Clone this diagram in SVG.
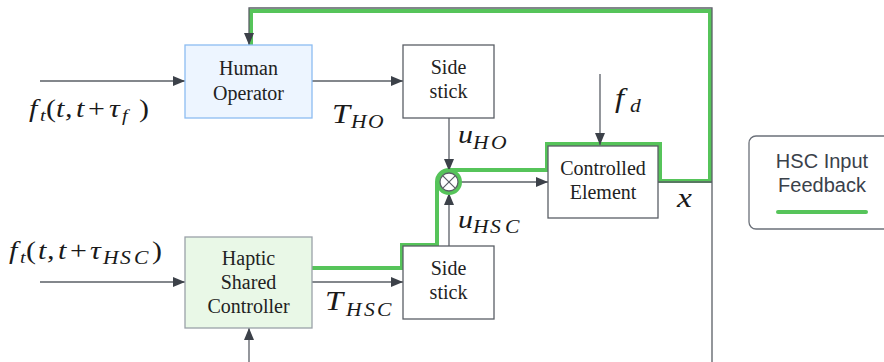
<svg xmlns="http://www.w3.org/2000/svg" width="884" height="362" viewBox="0 0 884 362">
<style>
.box{fill:#fff;stroke:#5a5f66;stroke-width:1.3}
.lbl{font-family:"Liberation Serif",serif;font-size:20px;fill:#222;text-anchor:middle}
.c{fill:none;stroke:#5a5f66;stroke-width:1.3}
.g{fill:none;stroke:#56c45a;stroke-width:4;stroke-linejoin:miter}
.m{font-family:"Liberation Serif",serif;font-style:italic;fill:#1a1a1a}
.n{font-style:normal}
.leg{font-family:"Liberation Sans",sans-serif;font-size:20px;fill:#3a414a;text-anchor:middle}
</style>
<defs>
<marker id="a" markerWidth="12" markerHeight="10" refX="12" refY="5" orient="auto" markerUnits="userSpaceOnUse">
<path d="M0,0 L12,5 L0,10 Z" fill="#3c4149"/>
</marker>
</defs>
<g id="connectors">
<path class="g" d="M312,268 H402 V245 H437 V182 A12,12 0 0 1 449,170 H547 V144 H660 V181 H710 V11 H251 V45"/>
<path class="c" d="M40,81 H185" marker-end="url(#a)"/>
<path class="c" d="M312,81 H403" marker-end="url(#a)"/>
<path class="c" d="M449,118 V171" marker-end="url(#a)"/>
<path class="c" d="M449,246 V193" marker-end="url(#a)"/>
<path class="c" d="M460,182 H548" marker-end="url(#a)"/>
<path class="c" d="M600,74 V145" marker-end="url(#a)"/>
<path class="c" d="M40,282 H185" marker-end="url(#a)"/>
<path class="c" d="M312,282 H403" marker-end="url(#a)"/>
<path class="c" d="M249,362 V328" marker-end="url(#a)"/>
<path class="c" d="M658,182 H712 M712,362 V8 H249 V45" marker-end="url(#a)"/>
</g>
<g id="human-operator">
<rect x="185" y="45" width="127" height="73" fill="#edf5ff" stroke="#8cbcf2" stroke-width="1.3"/>
<text class="lbl" x="248.5" y="75">Human</text>
<text class="lbl" x="248.5" y="100">Operator</text>
</g>
<g id="side-stick-top">
<rect class="box" x="403" y="45" width="91" height="73"/>
<text class="lbl" x="448.5" y="74">Side</text>
<text class="lbl" x="448.5" y="98">stick</text>
</g>
<g id="hsc">
<rect x="185" y="237" width="127" height="91" fill="#e9f8e7" stroke="#9aa1a8" stroke-width="1.3"/>
<text class="lbl" x="248.5" y="265">Haptic</text>
<text class="lbl" x="248.5" y="289">Shared</text>
<text class="lbl" x="248.5" y="313">Controller</text>
</g>
<g id="side-stick-bottom">
<rect class="box" x="403" y="246" width="91" height="73"/>
<text class="lbl" x="448.5" y="275">Side</text>
<text class="lbl" x="448.5" y="299">stick</text>
</g>
<g id="controlled-element">
<rect class="box" x="548" y="146" width="110" height="72"/>
<text class="lbl" x="603" y="175">Controlled</text>
<text class="lbl" x="603" y="199">Element</text>
</g>
<g id="sum">
<circle cx="449" cy="182" r="11" fill="#fff" stroke="#56c45a" stroke-width="4"/>
<circle cx="449" cy="182" r="9" fill="#fff" stroke="#5a5f66" stroke-width="1.3"/>
<path d="M442.6,175.6 L455.4,188.4 M455.4,175.6 L442.6,188.4" stroke="#5a5f66" stroke-width="1.2"/>
</g>
<g id="labels">
<g transform="translate(29,117) scale(1.2,1)"><text class="m" font-size="25"><tspan x="0" y="0">f</tspan><tspan x="9.2" y="4" font-size="17">t</tspan><tspan class="n" x="14.2" y="0">(</tspan><tspan x="22.5">t</tspan><tspan x="30">,</tspan><tspan x="39.2">t</tspan><tspan class="n" x="49.2">+</tspan><tspan x="66.7">τ</tspan><tspan x="77.5" y="4" font-size="17">f</tspan><tspan class="n" x="91.7" y="0">)</tspan></text></g>
<g transform="translate(9,259) scale(1.2,1)"><text class="m" font-size="25"><tspan x="0" y="0">f</tspan><tspan x="9.2" y="4" font-size="17">t</tspan><tspan class="n" x="14.2" y="0">(</tspan><tspan x="24.2">t</tspan><tspan x="31.7">,</tspan><tspan x="40.8">t</tspan><tspan class="n" x="50.8">+</tspan><tspan x="67.5">τ</tspan><tspan font-size="18" y="5"><tspan x="78.3">H</tspan><tspan x="92.5">S</tspan><tspan x="104.2">C</tspan></tspan><tspan class="n" x="119.2" y="0">)</tspan></text></g>
<g transform="translate(332,123) scale(1.2,1)"><text class="m"><tspan x="0" y="0" font-size="27">T</tspan><tspan font-size="18" y="5"><tspan x="15.8">H</tspan><tspan x="30">O</tspan></tspan></text></g>
<g transform="translate(325,310) scale(1.2,1)"><text class="m"><tspan x="0" y="0" font-size="27">T</tspan><tspan font-size="18" y="6"><tspan x="17.5">H</tspan><tspan x="32.5">S</tspan><tspan x="43.3">C</tspan></tspan></text></g>
<g transform="translate(458,143) scale(1.2,1)"><text class="m"><tspan x="0" y="0" font-size="25">u</tspan><tspan font-size="18" y="6"><tspan x="12.5">H</tspan><tspan x="27.5">O</tspan></tspan></text></g>
<g transform="translate(458,228) scale(1.2,1)"><text class="m"><tspan x="0" y="0" font-size="25">u</tspan><tspan font-size="18" y="5"><tspan x="12.5">H</tspan><tspan x="26.7">S</tspan><tspan x="39.2">C</tspan></tspan></text></g>
<g transform="translate(615,107) scale(1.2,1)"><text class="m"><tspan x="0" y="0" font-size="27">f</tspan><tspan x="12.5" y="5" font-size="18">d</tspan></text></g>
<g transform="translate(677,207) scale(1.2,1)"><text class="m" font-size="28" x="0" y="0">x</text></g>
</g>
<g id="legend">
<rect x="749" y="136" width="150" height="93" rx="7" fill="#fff" stroke="#6b7079" stroke-width="1.3"/>
<text class="leg" x="822" y="168">HSC Input</text>
<text class="leg" x="822" y="192">Feedback</text>
<line x1="778" y1="212" x2="866" y2="212" stroke="#56c45a" stroke-width="4" stroke-linecap="round"/>
</g>
</svg>
